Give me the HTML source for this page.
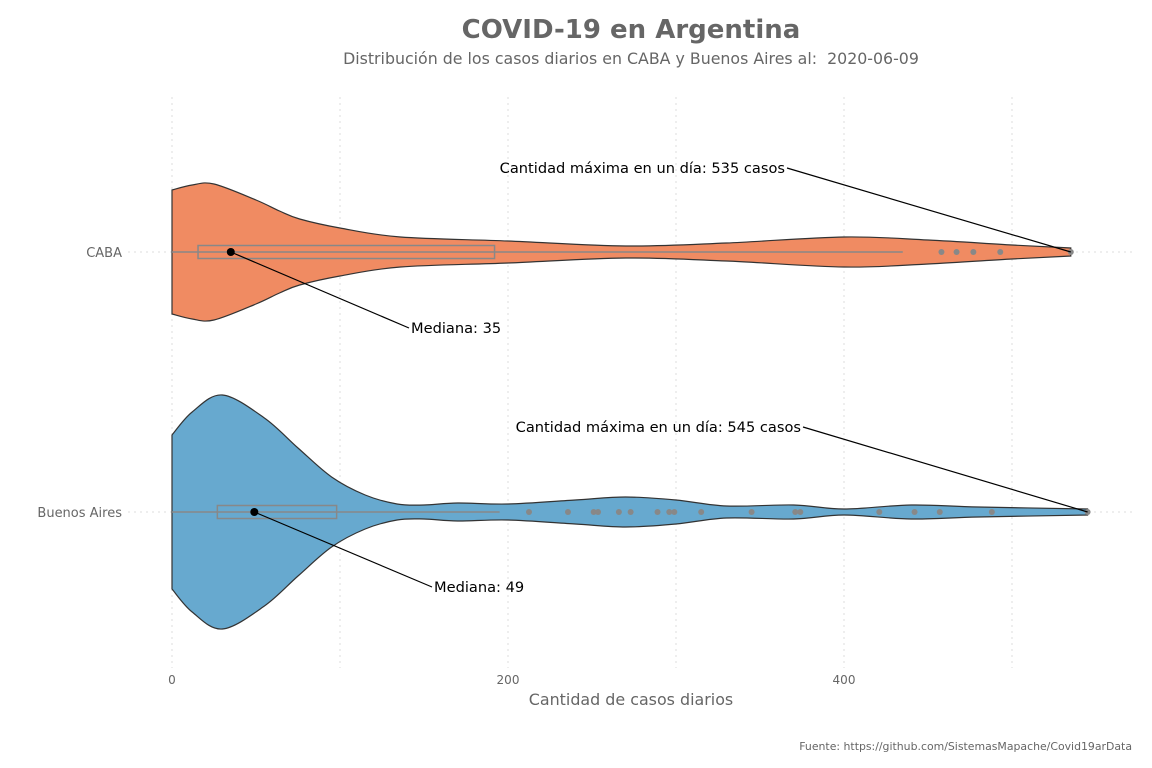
<!DOCTYPE html>
<html><head><meta charset="utf-8"><style>
body{margin:0;background:#fff;}
svg{display:block;font-family:"DejaVu Sans","Liberation Sans",sans-serif;}
</style></head><body>
<svg id="c" width="1152" height="768">
<text x="631" y="38" text-anchor="middle" font-size="26" font-weight="bold" fill="#666">COVID-19 en Argentina</text>
<text x="631" y="64" text-anchor="middle" font-size="15.8" fill="#666">Distribución de los casos diarios en CABA y Buenos Aires al:&#160; 2020-06-09</text>
<text x="631" y="705" text-anchor="middle" font-size="15.9" fill="#666">Cantidad de casos diarios</text>
<text x="1132" y="750" text-anchor="end" font-size="10.9" fill="#666">Fuente: https://github.com/SistemasMapache/Covid19arData</text>
<g id="grid"></g><g id="marks"></g>
</svg>
<script>
const categories=["CABA","Buenos Aires"];
const xTicks=[0,200,400];
const gridVals=[0,100,200,300,400,500];
const cabaDensX=[0,12,25,50,64,76,100,136,200,270,330,400,450,500,535];
const cabaDensW=[62,67,68,52,41,33,24,15,11,6,9,15,12,7,4];
const baDensX=[0,12,30,55,75,95,115,134,150,170,200,240,270,300,330,370,400,440,480,545];
const baDensW=[77,100,117,94,64,35,17,8,7,9,8,12,15,12,6,7,3,7,5,3];
const cabaBox=[15.5,35,192,0,435];
const baBox=[27,49,98,0,195];
const cabaOutliers=[458,467,477,493,535];
const baOutliers=[212.5,235.7,251,253.6,266,273,289,296,299,315,345,371,374,421,442,457,488,545];
const maxVals=[535,545];
const medians=[35,49];
const NS="http://www.w3.org/2000/svg";
const X=v=>172+v*1.68;
const Y=i=>[252,512][i];
function el(t,a,p){const e=document.createElementNS(NS,t);for(const k in a)e.setAttribute(k,a[k]);p.appendChild(e);return e;}
const grid=document.getElementById('grid'),marks=document.getElementById('marks');
gridVals.forEach(v=>{const l=el('line',{x1:X(v),x2:X(v),y1:97,y2:668,stroke:'#ddd','stroke-dasharray':'2,4'},grid);

});
xTicks.forEach(v=>{const t=el('text',{x:X(v),y:684,'text-anchor':'middle','font-size':12,fill:'#666'},grid);t.textContent=v;

});
categories.forEach((c,i)=>{const l=el('line',{x1:128,x2:1132,y1:Y(i),y2:Y(i),stroke:'#ddd','stroke-dasharray':'2,4'},grid);


const t=el('text',{x:122,y:Y(i)+5,'text-anchor':'end','font-size':13,fill:'#666'},grid);t.textContent=c;

});
function smooth(pts){let d='';for(let i=0;i<pts.length-1;i++){const p0=pts[Math.max(0,i-1)],p1=pts[i],p2=pts[i+1],p3=pts[Math.min(pts.length-1,i+2)];
const c1=[p1[0]+(p2[0]-p0[0])/6,p1[1]+(p2[1]-p0[1])/6],c2=[p2[0]-(p3[0]-p1[0])/6,p2[1]-(p3[1]-p1[1])/6];
d+=` C${c1[0]},${c1[1]} ${c2[0]},${c2[1]} ${p2[0]},${p2[1]}`;}return d;}
function violin(i,dx,dw,box,outs,color,name){
const y=Y(i);const top=dx.map((v,k)=>[X(v),y-dw[k]]);const bot=dx.map((v,k)=>[X(v),y+dw[k]]).reverse();
const d=`M${top[0][0]},${top[0][1]}`+smooth(top)+` L${bot[0][0]},${bot[0][1]}`+smooth(bot)+'Z';
const p=el('path',{d,fill:color,stroke:'#333','stroke-width':1.2},marks);


const w=el('line',{x1:X(box[3]),x2:X(box[4]),y1:y,y2:y,stroke:'#888','stroke-width':1.5},marks);


const b=el('rect',{x:X(box[0]),y:y-6.5,width:X(box[2])-X(box[0]),height:13,fill:'none',stroke:'#888','stroke-width':1.5},marks);


outs.forEach(v=>{const c=el('circle',{cx:X(v),cy:y,r:3,fill:'#888'},marks);

});
}
violin(0,cabaDensX,cabaDensW,cabaBox,cabaOutliers,'#f08b62','caba');
violin(1,baDensX,baDensW,baBox,baOutliers,'#67a9cf','buenos-aires');
const ann=[{tx:785,ty:168,my:328,mx:411},{tx:801,ty:427,my:587,mx:434}];
categories.forEach((c,i)=>{const y=Y(i),a=ann[i];
const m=el('circle',{cx:X(medians[i]),cy:y,r:4,fill:'#000'},marks);


el('line',{x1:X(medians[i]),y1:y,x2:a.mx-2,y2:a.my,stroke:'#000','stroke-width':1.2},marks);
const t=el('text',{x:a.mx,y:a.my+5,'font-size':14.6,fill:'#000'},marks);t.textContent='Mediana: '+medians[i];


el('line',{x1:a.tx+2,y1:a.ty,x2:X(maxVals[i]),y2:y,stroke:'#000','stroke-width':1.2},marks);
const t2=el('text',{x:a.tx,y:a.ty+5,'font-size':14.6,fill:'#000','text-anchor':'end'},marks);t2.textContent='Cantidad máxima en un día: '+maxVals[i]+' casos';


});
</script>
</body></html>
